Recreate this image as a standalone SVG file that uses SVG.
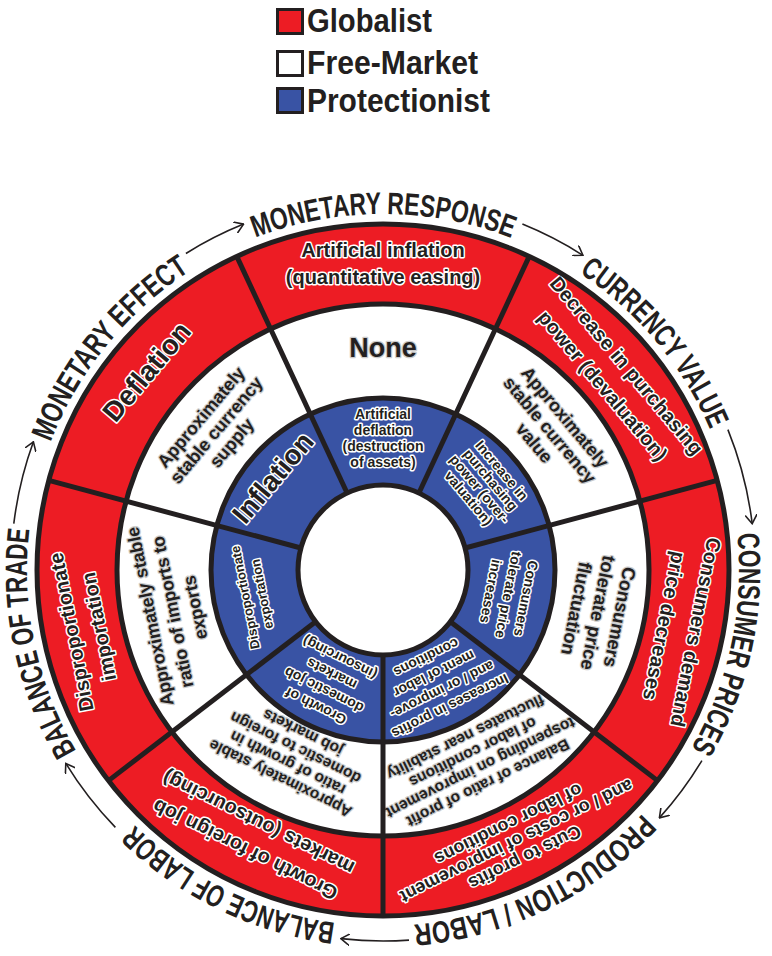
<svg xmlns="http://www.w3.org/2000/svg" width="772" height="956" viewBox="0 0 772 956">
<defs>
<style>
.t{font-family:"Liberation Sans",Arial,sans-serif;font-weight:bold;text-anchor:middle}
.onc{fill:#231f20;stroke:#fff;stroke-width:3;paint-order:stroke;stroke-linejoin:round}
.onw{fill:#231f20;stroke:#cbcbcb;stroke-width:2.5;paint-order:stroke;stroke-linejoin:round}
.red{fill:#ed1c24}
.wht{fill:#fff}
.blu{fill:#3953a4}
.div{fill:none;stroke:#231f20;stroke-width:5}
.arc{fill:none;stroke:#231f20;stroke-width:1.6;marker-end:url(#ah)}
.lbl{font-family:"Liberation Sans",Arial,sans-serif;font-weight:bold;font-size:31px;fill:#231f20;text-anchor:middle}
.leg{font-family:"Liberation Sans",Arial,sans-serif;font-weight:bold;font-size:33px;fill:#231f20}
.sq{stroke:#231f20;stroke-width:3}
</style>
<marker id="ah" viewBox="0 0 10 12" refX="9" refY="6" markerWidth="10" markerHeight="12" markerUnits="userSpaceOnUse" orient="auto">
<path d="M0,0 L9,6 L0,12" fill="none" stroke="#231f20" stroke-width="1.6"/>
</marker>
<path id="lp" d="M383,926 A356,356 0 1 1 383,214 A356,356 0 1 1 383,926"/>
</defs>

<g id="legend">
<rect class="sq red" x="277.5" y="9.5" width="25" height="24"/>
<text class="leg" x="307" y="32" textLength="125" lengthAdjust="spacingAndGlyphs">Globalist</text>
<rect class="sq wht" x="277.5" y="51.5" width="25" height="24"/>
<text class="leg" x="307" y="74" textLength="171" lengthAdjust="spacingAndGlyphs">Free-Market</text>
<rect class="sq blu" x="277.5" y="88.5" width="25" height="24"/>
<text class="leg" x="307" y="112" textLength="183" lengthAdjust="spacingAndGlyphs">Protectionist</text>
</g>

<!-- Red ring cells -->
<g id="red-monetary-response">
<path class="red" d="M236.77,256.42 A346,346 0 0 1 529.23,256.42 L495.42,328.92 A266,266 0 0 0 270.58,328.92 Z"/>
<text class="t onc" font-size="20" transform="translate(383 570)"><tspan x="0" y="-313">Artificial inflation</tspan><tspan x="0" y="-286">(quantitative easing)</tspan></text>
</g>
<g id="red-currency-value">
<path class="red" d="M529.23,256.42 A346,346 0 0 1 717.21,480.45 L639.94,501.15 A266,266 0 0 0 495.42,328.92 Z"/>
<text class="t onc" font-size="20" transform="translate(383 570) rotate(50)"><tspan x="0" y="-311">Decrease in purchasing</tspan><tspan x="0" y="-280">power (devaluation)</tspan></text>
</g>
<g id="red-consumer-prices">
<path class="red" d="M717.21,480.45 A346,346 0 0 1 657.5,780.63 L594.03,731.93 A266,266 0 0 0 639.94,501.15 Z"/>
<text class="t onc" font-size="20" transform="translate(383 570) rotate(101.25)"><tspan x="0" y="-312">Consumers demand</tspan><tspan x="0" y="-280">price decreases</tspan></text>
</g>
<g id="red-production-labor">
<path class="red" d="M657.5,780.63 A346,346 0 0 1 383,916 L383,836 A266,266 0 0 0 594.03,731.93 Z"/>
<text class="t onc" font-size="18" transform="translate(383 570) rotate(153.75)"><tspan x="0" y="-314.5">Cuts to profits</tspan><tspan x="0" y="-296">and / or costs of improvement</tspan><tspan x="0" y="-277.5">of labor conditions</tspan></text>
</g>
<g id="red-balance-of-labor">
<path class="red" d="M383,916 A346,346 0 0 1 108.5,780.63 L171.97,731.93 A266,266 0 0 0 383,836 Z"/>
<text class="t onc" font-size="20" transform="translate(383 570) rotate(206.25)"><tspan x="0" y="-305">Growth of foreign job</tspan><tspan x="0" y="-275">markets (outsourcing)</tspan></text>
</g>
<g id="red-balance-of-trade">
<path class="red" d="M108.5,780.63 A346,346 0 0 1 48.79,480.45 L126.06,501.15 A266,266 0 0 0 171.97,731.93 Z"/>
<text class="t onc" font-size="20" transform="translate(383 570) rotate(258.75)"><tspan x="0" y="-311">Disproportionate</tspan><tspan x="0" y="-283">importation</tspan></text>
</g>
<g id="red-monetary-effect">
<path class="red" d="M48.79,480.45 A346,346 0 0 1 236.77,256.42 L270.58,328.92 A266,266 0 0 0 126.06,501.15 Z"/>
<text class="t onc" font-size="28" transform="translate(383 570) rotate(-50)"><tspan x="0" y="-299">Deflation</tspan></text>
</g>

<!-- White ring cells -->
<g id="white-monetary-response">
<path class="wht" d="M270.58,328.92 A266,266 0 0 1 495.42,328.92 L455.69,414.11 A172,172 0 0 0 310.31,414.11 Z"/>
<text class="t onw" font-size="27" transform="translate(383 570)"><tspan x="0" y="-213">None</tspan></text>
</g>
<g id="white-currency-value">
<path class="wht" d="M495.42,328.92 A266,266 0 0 1 639.94,501.15 L549.14,525.48 A172,172 0 0 0 455.69,414.11 Z"/>
<text class="t onw" font-size="18" transform="translate(383 570) rotate(50)"><tspan x="0" y="-231.5">Approximately</tspan><tspan x="0" y="-211.5">stable currency</tspan><tspan x="0" y="-191.5">value</tspan></text>
</g>
<g id="white-consumer-prices">
<path class="wht" d="M639.94,501.15 A266,266 0 0 1 594.03,731.93 L519.46,674.71 A172,172 0 0 0 549.14,525.48 Z"/>
<text class="t onw" font-size="18.5" transform="translate(383 570) rotate(101.25)"><tspan x="0" y="-235">Consumers</tspan><tspan x="0" y="-213">tolerate price</tspan><tspan x="0" y="-191">fluctuation</tspan></text>
</g>
<g id="white-production-labor">
<path class="wht" d="M594.03,731.93 A266,266 0 0 1 383,836 L383,742 A172,172 0 0 0 519.46,674.71 Z"/>
<text class="t onw" font-size="15.5" transform="translate(383 570) rotate(153.75)"><tspan x="0" y="-232">Balance of ratio of profit</tspan><tspan x="0" y="-215">tospending on improvement</tspan><tspan x="0" y="-198">of labor conditions</tspan><tspan x="0" y="-181">fluctuates near stability</tspan></text>
</g>
<g id="white-balance-of-labor">
<path class="wht" d="M383,836 A266,266 0 0 1 171.97,731.93 L246.54,674.71 A172,172 0 0 0 383,742 Z"/>
<text class="t onw" font-size="15.5" transform="translate(383 570) rotate(206.25)"><tspan x="0" y="-227">Approximately stable</tspan><tspan x="0" y="-210">ratio of growth in</tspan><tspan x="0" y="-193">domestic to foreign</tspan><tspan x="0" y="-176">job markets</tspan></text>
</g>
<g id="white-balance-of-trade">
<path class="wht" d="M171.97,731.93 A266,266 0 0 1 126.06,501.15 L216.86,525.48 A172,172 0 0 0 246.54,674.71 Z"/>
<text class="t onw" font-size="18" transform="translate(383 570) rotate(258.75)"><tspan x="0" y="-231.5">Approximately stable</tspan><tspan x="0" y="-208.5">ratio of imports to</tspan><tspan x="0" y="-185.5">exports</tspan></text>
</g>
<g id="white-monetary-effect">
<path class="wht" d="M126.06,501.15 A266,266 0 0 1 270.58,328.92 L310.31,414.11 A172,172 0 0 0 216.86,525.48 Z"/>
<text class="t onw" font-size="18" transform="translate(383 570) rotate(-50)"><tspan x="0" y="-231.5">Approximately</tspan><tspan x="0" y="-211.5">stable currency</tspan><tspan x="0" y="-191.5">supply</tspan></text>
</g>

<!-- Blue ring cells -->
<g id="blue-monetary-response">
<path class="blu" d="M310.31,414.11 A172,172 0 0 1 455.69,414.11 L418.92,492.96 A85,85 0 0 0 347.08,492.96 Z"/>
<text class="t onc" font-size="14" transform="translate(383 570)"><tspan x="0" y="-151">Artificial</tspan><tspan x="0" y="-135">deflation</tspan><tspan x="0" y="-119">(destruction</tspan><tspan x="0" y="-103.5">of assets)</tspan></text>
</g>
<g id="blue-currency-value">
<path class="blu" d="M455.69,414.11 A172,172 0 0 1 549.14,525.48 L465.1,548 A85,85 0 0 0 418.92,492.96 Z"/>
<text class="t onc" font-size="14" transform="translate(383 570) rotate(50)"><tspan x="0" y="-150">Increase in</tspan><tspan x="0" y="-135.7">purchasing</tspan><tspan x="0" y="-121.3">power (over-</tspan><tspan x="0" y="-107">valuation)</tspan></text>
</g>
<g id="blue-consumer-prices">
<path class="blu" d="M549.14,525.48 A172,172 0 0 1 519.46,674.71 L450.43,621.74 A85,85 0 0 0 465.1,548 Z"/>
<text class="t onc" font-size="14" transform="translate(383 570) rotate(101.25)"><tspan x="0" y="-141">Consumers</tspan><tspan x="0" y="-123">tolerate price</tspan><tspan x="0" y="-105">increases</tspan></text>
</g>
<g id="blue-production-labor">
<path class="blu" d="M519.46,674.71 A172,172 0 0 1 383,742 L383,655 A85,85 0 0 0 450.43,621.74 Z"/>
<text class="t onc" font-size="14" transform="translate(383 570) rotate(153.75)"><tspan x="0" y="-147">Increases in profits</tspan><tspan x="0" y="-129">and / or improve-</tspan><tspan x="0" y="-111">ment of labor</tspan><tspan x="0" y="-93">conditions</tspan></text>
</g>
<g id="blue-balance-of-labor">
<path class="blu" d="M383,742 A172,172 0 0 1 246.54,674.71 L315.57,621.74 A85,85 0 0 0 383,655 Z"/>
<text class="t onc" font-size="14" transform="translate(383 570) rotate(206.25)"><tspan x="0" y="-147">Growth of</tspan><tspan x="0" y="-129">domestic job</tspan><tspan x="0" y="-111">markets</tspan><tspan x="0" y="-93">(insourcing)</tspan></text>
</g>
<g id="blue-balance-of-trade">
<path class="blu" d="M246.54,674.71 A172,172 0 0 1 216.86,525.48 L300.9,548 A85,85 0 0 0 315.57,621.74 Z"/>
<text class="t onc" font-size="13" transform="translate(383 570) rotate(258.75)"><tspan x="0" y="-136">Disproportionate</tspan><tspan x="0" y="-119">exportation</tspan></text>
</g>
<g id="blue-monetary-effect">
<path class="blu" d="M216.86,525.48 A172,172 0 0 1 310.31,414.11 L347.08,492.96 A85,85 0 0 0 300.9,548 Z"/>
<text class="t onc" font-size="28" transform="translate(383 570) rotate(-50)"><tspan x="0" y="-134">Inflation</tspan></text>
</g>

<g id="center">
<circle cx="383" cy="570" r="85" class="wht"/>
</g>

<g id="dividers" class="div">
<circle cx="383" cy="570" r="346"/>
<circle cx="383" cy="570" r="266"/>
<circle cx="383" cy="570" r="172"/>
<circle cx="383" cy="570" r="85"/>
<line x1="347.08" y1="492.96" x2="236.77" y2="256.42"/>
<line x1="418.92" y1="492.96" x2="529.23" y2="256.42"/>
<line x1="465.1" y1="548" x2="717.21" y2="480.45"/>
<line x1="450.43" y1="621.74" x2="657.5" y2="780.63"/>
<line x1="383" y1="655" x2="383" y2="916"/>
<line x1="315.57" y1="621.74" x2="108.5" y2="780.63"/>
<line x1="300.9" y1="548" x2="48.79" y2="480.45"/>
</g>

<g id="outer-labels">
<text class="lbl"><textPath href="#lp" startOffset="1118.4" textLength="262" lengthAdjust="spacingAndGlyphs">MONETARY RESPONSE</textPath></text>
<text class="lbl"><textPath href="#lp" startOffset="1429.1" textLength="207" lengthAdjust="spacingAndGlyphs">CURRENCY VALUE</textPath></text>
<text class="lbl"><textPath href="#lp" startOffset="1752.2" textLength="223" lengthAdjust="spacingAndGlyphs">CONSUMER PRICES</textPath></text>
<text class="lbl"><textPath href="#lp" startOffset="2075.3" textLength="260" lengthAdjust="spacingAndGlyphs">PRODUCTION / LABOR</textPath></text>
<text class="lbl"><textPath href="#lp" startOffset="161.5" textLength="227" lengthAdjust="spacingAndGlyphs">BALANCE OF LABOR</textPath></text>
<text class="lbl"><textPath href="#lp" startOffset="484.6" textLength="231" lengthAdjust="spacingAndGlyphs">BALANCE OF TRADE</textPath></text>
<text class="lbl"><textPath href="#lp" startOffset="801.5" textLength="224" lengthAdjust="spacingAndGlyphs">MONETARY EFFECT</textPath></text>
</g>

<g id="connectors">
<path class="arc" d="M185.9,253.5 A372,372 0 0 1 243.6,224.1"/>
<path class="arc" d="M522.4,224.1 A372,372 0 0 1 582.9,255.3"/>
<path class="arc" d="M727.9,429.6 A372,372 0 0 1 752.2,523.7"/>
<path class="arc" d="M701.9,760.6 A372,372 0 0 1 659.4,817.9"/>
<path class="arc" d="M409,940.1 A372,372 0 0 1 340.9,938.6"/>
<path class="arc" d="M115.4,827.4 A372,372 0 0 1 65.8,763.4"/>
<path class="arc" d="M13.8,523.7 A372,372 0 0 1 33.4,441.8"/>
</g>
</svg>
